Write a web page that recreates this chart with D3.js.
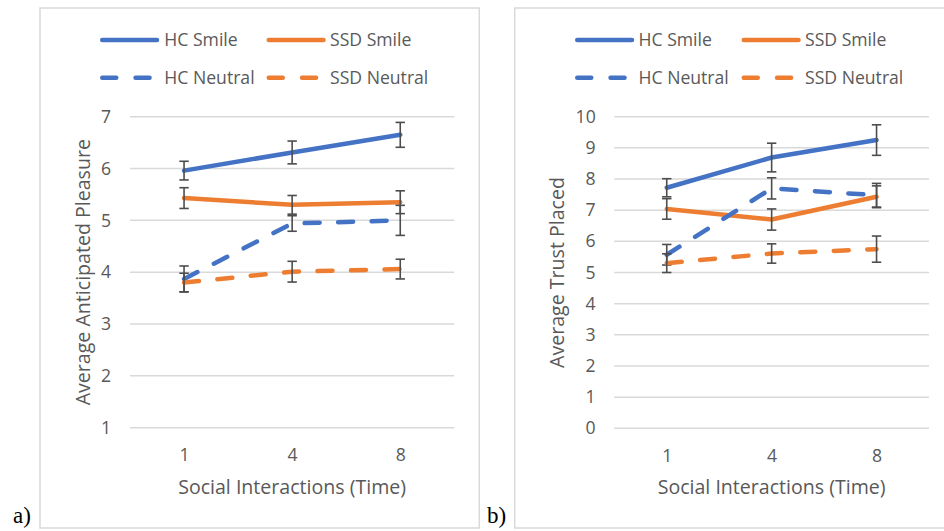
<!DOCTYPE html>
<html><head><meta charset="utf-8">
<script src="https://cdn.jsdelivr.net/npm/d3@7"></script>
<style>body{margin:0;background:#fff;} svg{display:block}</style>
</head><body>
<svg id="chart" width="944" height="531"></svg>
<script>
// ---------- data ----------
const categories = ["1", "4", "8"];
const seriesNames = ["HC Smile", "SSD Smile", "HC Neutral", "SSD Neutral"];
const pleasureTicks = [1, 2, 3, 4, 5, 6, 7];
const trustTicks = [0, 1, 2, 3, 4, 5, 6, 7, 8, 9, 10];

// panel a: Average Anticipated Pleasure
const pleasureHCSmile      = [5.96, 6.31, 6.65];
const pleasureHCSmileErr   = [0.18, 0.22, 0.24];
const pleasureSSDSmile     = [5.43, 5.30, 5.35];
const pleasureSSDSmileErr  = [0.20, 0.18, 0.22];
const pleasureHCNeutral    = [3.87, 4.94, 5.00];
const pleasureHCNeutralErr = [0.25, 0.15, 0.29];
const pleasureSSDNeutral   = [3.80, 4.01, 4.06];
const pleasureSSDNeutralErr= [0.18, 0.20, 0.19];

// panel b: Average Trust Placed
const trustHCSmile      = [7.72, 8.69, 9.25];
const trustHCSmileErr   = [0.29, 0.46, 0.49];
const trustSSDSmile     = [7.04, 6.70, 7.43];
const trustSSDSmileErr  = [0.33, 0.34, 0.35];
const trustHCNeutral    = [5.57, 7.70, 7.48];
const trustHCNeutralErr = [0.33, 0.34, 0.38];
const trustSSDNeutral   = [5.30, 5.61, 5.75];
const trustSSDNeutralErr= [0.30, 0.31, 0.42];

// ---------- styles ----------
const BLUE = "#4472C4", ORANGE = "#ED7D31";
const seriesStyle = [
  {color: BLUE, dash: null},
  {color: ORANGE, dash: null},
  {color: BLUE, dash: "15,18.5"},
  {color: ORANGE, dash: "15,18.5"}
];
const TEXT = "#595959", GRID = "#d9d9d9", ERR = "#4d4d4d";
const FONT = "'Open Sans', 'Noto Sans', sans-serif";

const svg = d3.select("#chart");

// fit title font size so x-axis title matches reference width
const probe = svg.append("text").attr("font-family", FONT).attr("font-size", 100)
  .text("Social Interactions (Time)");
const probeW = probe.node().getComputedTextLength();
probe.remove();
const FS = 100 * 228 / probeW;   // axis titles
const FS2 = FS * 0.9;            // tick labels and legend

const panels = [
  {
    frame: {x: 40, y: 8, w: 439.3, h: 520},
    plot: {x0: 130, x1: 454.3, yTop: 116.7, yBot: 427.7},
    domain: [1, 7], ticks: pleasureTicks,
    title: "Average Anticipated Pleasure", titleX: 82.7, tickRight: 111,
    legend: {lineX: [101, 267.5], textX: [164.3, 330], rowY: [40, 77.7]},
    label: "a)", labelX: 13,
    data: [pleasureHCSmile, pleasureSSDSmile, pleasureHCNeutral, pleasureSSDNeutral],
    errs: [pleasureHCSmileErr, pleasureSSDSmileErr, pleasureHCNeutralErr, pleasureSSDNeutralErr]
  },
  {
    frame: {x: 514.7, y: 8, w: 460, h: 520},
    plot: {x0: 614.3, x1: 929, yTop: 116.7, yBot: 428.3},
    domain: [0, 10], ticks: trustTicks,
    title: "Average Trust Placed", titleX: 556.7, tickRight: 595.7,
    legend: {lineX: [576, 742.5], textX: [638.5, 805], rowY: [40, 77.7]},
    label: "b)", labelX: 487,
    data: [trustHCSmile, trustSSDSmile, trustHCNeutral, trustSSDNeutral],
    errs: [trustHCSmileErr, trustSSDSmileErr, trustHCNeutralErr, trustSSDNeutralErr]
  }
];

panels.forEach(p => {
  const g = svg.append("g");
  // frame
  g.append("rect").attr("x", p.frame.x).attr("y", p.frame.y)
    .attr("width", p.frame.w).attr("height", p.frame.h)
    .attr("fill", "none").attr("stroke", GRID).attr("stroke-width", 1.5);

  const x = d3.scalePoint().domain(categories).range([p.plot.x0, p.plot.x1]).padding(0.5);
  const y = d3.scaleLinear().domain(p.domain).range([p.plot.yBot, p.plot.yTop]);

  // gridlines
  g.append("g").selectAll("line").data(p.ticks).join("line")
    .attr("x1", p.plot.x0).attr("x2", p.plot.x1)
    .attr("y1", d => y(d)).attr("y2", d => y(d))
    .attr("stroke", GRID).attr("stroke-width", 1.5);

  // y axis labels
  const yAxis = d3.axisLeft(y).tickValues(p.ticks).tickSize(0).tickPadding(0).tickFormat(d3.format("d"));
  const ya = g.append("g").attr("transform", `translate(${p.tickRight},0)`).call(yAxis);
  ya.select(".domain").remove();
  ya.selectAll("text").attr("font-family", FONT).attr("font-size", FS2).attr("fill", TEXT);

  // x axis labels
  const xAxis = d3.axisBottom(x).tickSize(0).tickPadding(0);
  const xa = g.append("g").attr("transform", `translate(0,${p.plot.yBot + 27.5})`).call(xAxis);
  xa.select(".domain").remove();
  xa.selectAll("text").attr("font-family", FONT).attr("font-size", FS2).attr("fill", TEXT).attr("dy", "0.35em");

  // axis titles
  g.append("text").attr("x", (p.plot.x0 + p.plot.x1) / 2).attr("y", 487).attr("dy", "0.35em")
    .attr("text-anchor", "middle").attr("font-family", FONT).attr("font-size", FS).attr("fill", TEXT)
    .text("Social Interactions (Time)");
  g.append("text").attr("transform", `translate(${p.titleX},${(p.plot.yTop + p.plot.yBot) / 2}) rotate(-90)`)
    .attr("dy", "0.35em").attr("text-anchor", "middle")
    .attr("font-family", FONT).attr("font-size", FS).attr("fill", TEXT).text(p.title);

  // series
  const line = d3.line().x((d, i) => x(categories[i])).y(d => y(d));
  p.data.forEach((vals, si) => {
    const st = seriesStyle[si];
    g.append("path").datum(vals).attr("d", line)
      .attr("fill", "none").attr("stroke", st.color).attr("stroke-width", 4.5)
      .attr("stroke-linecap", "round").attr("stroke-linejoin", "round")
      .attr("stroke-dasharray", st.dash);
    const eg = g.append("g").attr("stroke", ERR).attr("stroke-width", 1.6);
    vals.forEach((v, i) => {
      const cx = x(categories[i]), e = p.errs[si][i];
      eg.append("line").attr("x1", cx).attr("x2", cx).attr("y1", y(v - e)).attr("y2", y(v + e));
      eg.append("line").attr("x1", cx - 4.7).attr("x2", cx + 4.7).attr("y1", y(v - e)).attr("y2", y(v - e));
      eg.append("line").attr("x1", cx - 4.7).attr("x2", cx + 4.7).attr("y1", y(v + e)).attr("y2", y(v + e));
    });
  });

  // legend
  seriesNames.forEach((name, si) => {
    const col = si % 2, row = Math.floor(si / 2);
    const lx = p.legend.lineX[col], ly = p.legend.rowY[row];
    const st = seriesStyle[si];
    g.append("line").attr("x1", lx + 1.25).attr("x2", st.dash ? lx + 50 : lx + 56).attr("y1", ly).attr("y2", ly)
      .attr("stroke", st.color).attr("stroke-width", 4.5).attr("stroke-linecap", "round")
      .attr("stroke-dasharray", st.dash ? "14,19.3" : null);
    g.append("text").attr("x", p.legend.textX[col]).attr("y", ly).attr("dy", "0.35em")
      .attr("font-family", FONT).attr("font-size", FS2).attr("fill", TEXT).text(name);
  });

  // panel label
  svg.append("text").attr("x", p.labelX).attr("y", 523)
    .attr("font-family", "'Liberation Serif', 'DejaVu Serif', serif").attr("font-size", 23)
    .attr("fill", "#000").text(p.label);
});
</script>
</body></html>
